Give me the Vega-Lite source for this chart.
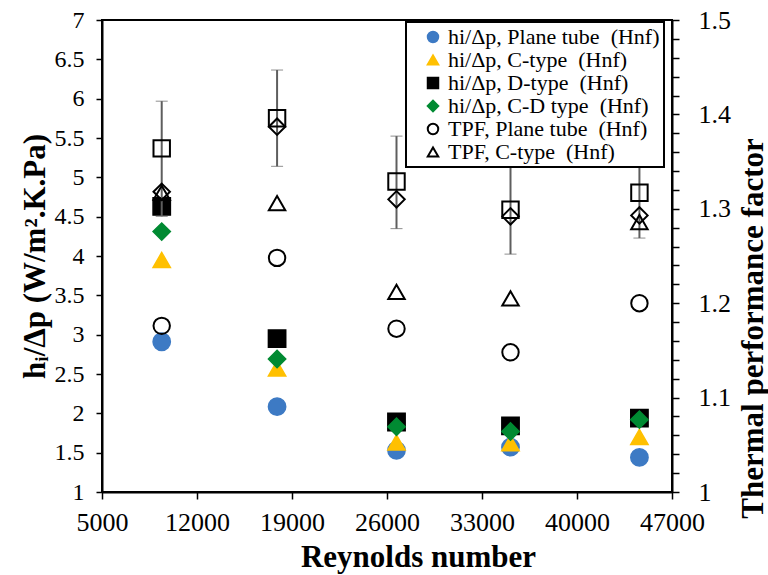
{
  "$schema": "https://vega.github.io/schema/vega-lite/v6.json",
  "width": 570,
  "height": 472,
  "autosize": {"type": "none"},
  "padding": {"left": 102, "top": 20, "right": 96, "bottom": 83},
  "background": "white",
  "config": {
    "font": "Liberation Serif",
    "view": {"stroke": "black", "strokeWidth": 2},
    "axis": {
      "grid": false, "domainColor": "black", "domainWidth": 2,
      "tickColor": "black", "tickWidth": 1.5, "tickSize": 6,
      "labelFont": "Liberation Serif", "labelFontSize": 24, "labelColor": "black",
      "labelOverlap": false, "labelFlush": false,
      "titleFont": "Liberation Serif", "titleFontSize": 31, "titleFontWeight": "bold", "titleColor": "black"
    },
    "legend": {
      "labelFont": "Liberation Serif", "labelFontSize": 22, "labelColor": "black", "labelLimit": 0,
      "symbolSize": 110, "symbolStrokeWidth": 2, "rowPadding": 1, "padding": 4, "symbolOffset": 12, "labelOffset": 4,
      "strokeColor": "black", "strokeWidth": 2, "fillColor": "white"
    }
  },
  "datasets": {
    "hi": [
      {"Re": 9400, "series": "hi/Δp, Plane tube\u00a0 (Hnf)", "val": 2.91},
      {"Re": 17900, "series": "hi/Δp, Plane tube\u00a0 (Hnf)", "val": 2.085},
      {"Re": 26700, "series": "hi/Δp, Plane tube\u00a0 (Hnf)", "val": 1.53},
      {"Re": 35100, "series": "hi/Δp, Plane tube\u00a0 (Hnf)", "val": 1.57},
      {"Re": 44600, "series": "hi/Δp, Plane tube\u00a0 (Hnf)", "val": 1.44},
      {"Re": 9400, "series": "hi/Δp, C-type\u00a0 (Hnf)", "val": 3.95},
      {"Re": 17900, "series": "hi/Δp, C-type\u00a0 (Hnf)", "val": 2.57},
      {"Re": 26700, "series": "hi/Δp, C-type\u00a0 (Hnf)", "val": 1.63},
      {"Re": 35100, "series": "hi/Δp, C-type\u00a0 (Hnf)", "val": 1.62},
      {"Re": 44600, "series": "hi/Δp, C-type\u00a0 (Hnf)", "val": 1.70},
      {"Re": 9400, "series": "hi/Δp, D-type\u00a0 (Hnf)", "val": 4.63},
      {"Re": 17900, "series": "hi/Δp, D-type\u00a0 (Hnf)", "val": 2.95},
      {"Re": 26700, "series": "hi/Δp, D-type\u00a0 (Hnf)", "val": 1.89},
      {"Re": 35100, "series": "hi/Δp, D-type\u00a0 (Hnf)", "val": 1.84},
      {"Re": 44600, "series": "hi/Δp, D-type\u00a0 (Hnf)", "val": 1.94},
      {"Re": 9400, "series": "hi/Δp, C-D type\u00a0 (Hnf)", "val": 4.31},
      {"Re": 17900, "series": "hi/Δp, C-D type\u00a0 (Hnf)", "val": 2.69},
      {"Re": 26700, "series": "hi/Δp, C-D type\u00a0 (Hnf)", "val": 1.83},
      {"Re": 35100, "series": "hi/Δp, C-D type\u00a0 (Hnf)", "val": 1.77},
      {"Re": 44600, "series": "hi/Δp, C-D type\u00a0 (Hnf)", "val": 1.92}
    ],
    "tpf": [
      {"Re": 9400, "series": "TPF, Plane tube\u00a0 (Hnf)", "val": 1.176},
      {"Re": 17900, "series": "TPF, Plane tube\u00a0 (Hnf)", "val": 1.248},
      {"Re": 26700, "series": "TPF, Plane tube\u00a0 (Hnf)", "val": 1.173},
      {"Re": 35100, "series": "TPF, Plane tube\u00a0 (Hnf)", "val": 1.148},
      {"Re": 44600, "series": "TPF, Plane tube\u00a0 (Hnf)", "val": 1.200},
      {"Re": 9400, "series": "TPF, C-type\u00a0 (Hnf)", "val": 1.317},
      {"Re": 17900, "series": "TPF, C-type\u00a0 (Hnf)", "val": 1.306},
      {"Re": 26700, "series": "TPF, C-type\u00a0 (Hnf)", "val": 1.212},
      {"Re": 35100, "series": "TPF, C-type\u00a0 (Hnf)", "val": 1.205},
      {"Re": 44600, "series": "TPF, C-type\u00a0 (Hnf)", "val": 1.286},
      {"Re": 9400, "series": "TPF, D-type\u00a0 (Hnf)", "val": 1.364},
      {"Re": 17900, "series": "TPF, D-type\u00a0 (Hnf)", "val": 1.396},
      {"Re": 26700, "series": "TPF, D-type\u00a0 (Hnf)", "val": 1.329},
      {"Re": 35100, "series": "TPF, D-type\u00a0 (Hnf)", "val": 1.299},
      {"Re": 44600, "series": "TPF, D-type\u00a0 (Hnf)", "val": 1.317},
      {"Re": 9400, "series": "TPF, C-D type\u00a0 (Hnf)", "val": 1.318},
      {"Re": 17900, "series": "TPF, C-D type\u00a0 (Hnf)", "val": 1.387},
      {"Re": 26700, "series": "TPF, C-D type\u00a0 (Hnf)", "val": 1.310},
      {"Re": 35100, "series": "TPF, C-D type\u00a0 (Hnf)", "val": 1.292},
      {"Re": 44600, "series": "TPF, C-D type\u00a0 (Hnf)", "val": 1.293}
    ],
    "err": [
      {"Re": 9400, "lo": 1.292, "hi": 1.414},
      {"Re": 17900, "lo": 1.345, "hi": 1.447},
      {"Re": 26700, "lo": 1.279, "hi": 1.377},
      {"Re": 35100, "lo": 1.252, "hi": 1.347},
      {"Re": 44600, "lo": 1.269, "hi": 1.365}
    ]
  },
  "layer": [
    {
      "data": {"name": "hi"},
      "mark": {"type": "point", "filled": true, "size": 300, "opacity": 1, "strokeWidth": 1.5},
      "encoding": {
        "x": {"field": "Re", "type": "quantitative", "scale": {"domain": [5000, 47000], "nice": false, "zero": false},
          "axis": {"title": "Reynolds number", "values": [5000, 12000, 19000, 26000, 33000, 40000, 47000], "format": "d", "tickSize": 7, "labelFontSize": 26, "labelPadding": 10, "titleX": 316, "titleY": 65, "titleBaseline": "middle"}},
        "y": {"field": "val", "type": "quantitative", "scale": {"domain": [1, 7], "nice": false, "zero": false},
          "axis": {"orient": "left", "title": "hᵢ/Δp (W/m².K.Pa)", "values": [1, 1.5, 2, 2.5, 3, 3.5, 4, 4.5, 5, 5.5, 6, 6.5, 7], "format": "~g", "labelPadding": 12, "titleX": -67, "titleY": 236, "titleBaseline": "middle", "titleAngle": 270}},
        "shape": {"field": "series", "type": "nominal",
          "scale": {"domain": ["hi/Δp, Plane tube\u00a0 (Hnf)", "hi/Δp, C-type\u00a0 (Hnf)", "hi/Δp, D-type\u00a0 (Hnf)", "hi/Δp, C-D type\u00a0 (Hnf)", "TPF, Plane tube\u00a0 (Hnf)", "TPF, C-type\u00a0 (Hnf)", "TPF, D-type\u00a0 (Hnf)", "TPF, C-D type\u00a0 (Hnf)"],
            "range": ["circle", "triangle-up", "square", "diamond", "circle", "triangle-up", "square", "diamond"]},
          "legend": {"title": null, "orient": "none", "legendX": 304, "legendY": 2, "values": ["hi/Δp, Plane tube\u00a0 (Hnf)", "hi/Δp, C-type\u00a0 (Hnf)", "hi/Δp, D-type\u00a0 (Hnf)", "hi/Δp, C-D type\u00a0 (Hnf)", "TPF, Plane tube\u00a0 (Hnf)", "TPF, C-type\u00a0 (Hnf)"]}},
        "fill": {"field": "series", "type": "nominal",
          "scale": {"domain": ["hi/Δp, Plane tube\u00a0 (Hnf)", "hi/Δp, C-type\u00a0 (Hnf)", "hi/Δp, D-type\u00a0 (Hnf)", "hi/Δp, C-D type\u00a0 (Hnf)", "TPF, Plane tube\u00a0 (Hnf)", "TPF, C-type\u00a0 (Hnf)", "TPF, D-type\u00a0 (Hnf)", "TPF, C-D type\u00a0 (Hnf)"],
            "range": ["#3D7AC4", "#FFC000", "#000000", "#008A32", "transparent", "transparent", "transparent", "transparent"]},
          "legend": {"title": null, "orient": "none", "legendX": 304, "legendY": 2, "values": ["hi/Δp, Plane tube\u00a0 (Hnf)", "hi/Δp, C-type\u00a0 (Hnf)", "hi/Δp, D-type\u00a0 (Hnf)", "hi/Δp, C-D type\u00a0 (Hnf)", "TPF, Plane tube\u00a0 (Hnf)", "TPF, C-type\u00a0 (Hnf)"]}},
        "stroke": {"field": "series", "type": "nominal",
          "scale": {"domain": ["hi/Δp, Plane tube\u00a0 (Hnf)", "hi/Δp, C-type\u00a0 (Hnf)", "hi/Δp, D-type\u00a0 (Hnf)", "hi/Δp, C-D type\u00a0 (Hnf)", "TPF, Plane tube\u00a0 (Hnf)", "TPF, C-type\u00a0 (Hnf)", "TPF, D-type\u00a0 (Hnf)", "TPF, C-D type\u00a0 (Hnf)"],
            "range": ["#3D7AC4", "#FFC000", "#000000", "#008A32", "#000000", "#000000", "#000000", "#000000"]},
          "legend": {"title": null, "orient": "none", "legendX": 304, "legendY": 2, "values": ["hi/Δp, Plane tube\u00a0 (Hnf)", "hi/Δp, C-type\u00a0 (Hnf)", "hi/Δp, D-type\u00a0 (Hnf)", "hi/Δp, C-D type\u00a0 (Hnf)", "TPF, Plane tube\u00a0 (Hnf)", "TPF, C-type\u00a0 (Hnf)"]}}
      }
    },
    {
      "layer": [
        {
          "data": {"name": "err"},
          "mark": {"type": "errorbar", "ticks": {"size": 12, "color": "#5E5E5E", "strokeWidth": 2}, "rule": {"color": "#5E5E5E", "strokeWidth": 2}},
          "encoding": {
            "x": {"field": "Re", "type": "quantitative"},
            "y": {"field": "lo", "type": "quantitative", "scale": {"domain": [1, 1.5], "nice": false, "zero": false},
              "axis": {"orient": "right", "title": "Thermal performance factor", "values": [1, 1.02, 1.04, 1.06, 1.08, 1.1, 1.12, 1.14, 1.16, 1.18, 1.2, 1.22, 1.24, 1.26, 1.28, 1.3, 1.32, 1.34, 1.36, 1.38, 1.4, 1.42, 1.44, 1.46, 1.48, 1.5], "labelExpr": "abs(datum.value*10 - round(datum.value*10)) < 0.001 ? format(datum.value, '~g') : ''", "tickSize": 7, "labelFontSize": 26, "labelPadding": 19, "titleX": 81, "titleY": 308, "titleBaseline": "middle", "titleAngle": 270}},
            "y2": {"field": "hi"}
          }
        },
        {
          "data": {"name": "tpf"},
          "mark": {"type": "point", "filled": true, "size": 270, "opacity": 1, "strokeWidth": 2},
          "encoding": {
            "x": {"field": "Re", "type": "quantitative"},
            "y": {"field": "val", "type": "quantitative", "scale": {"domain": [1, 1.5], "nice": false, "zero": false},
              "axis": {"orient": "right", "title": "Thermal performance factor", "values": [1, 1.02, 1.04, 1.06, 1.08, 1.1, 1.12, 1.14, 1.16, 1.18, 1.2, 1.22, 1.24, 1.26, 1.28, 1.3, 1.32, 1.34, 1.36, 1.38, 1.4, 1.42, 1.44, 1.46, 1.48, 1.5], "labelExpr": "abs(datum.value*10 - round(datum.value*10)) < 0.001 ? format(datum.value, '~g') : ''", "tickSize": 7, "labelFontSize": 26, "labelPadding": 19, "titleX": 81, "titleY": 308, "titleBaseline": "middle", "titleAngle": 270}},
            "shape": {"field": "series", "type": "nominal",
              "scale": {"domain": ["hi/Δp, Plane tube\u00a0 (Hnf)", "hi/Δp, C-type\u00a0 (Hnf)", "hi/Δp, D-type\u00a0 (Hnf)", "hi/Δp, C-D type\u00a0 (Hnf)", "TPF, Plane tube\u00a0 (Hnf)", "TPF, C-type\u00a0 (Hnf)", "TPF, D-type\u00a0 (Hnf)", "TPF, C-D type\u00a0 (Hnf)"],
                "range": ["circle", "triangle-up", "square", "diamond", "circle", "triangle-up", "square", "diamond"]},
              "legend": {"title": null, "orient": "none", "legendX": 304, "legendY": 2, "values": ["hi/Δp, Plane tube\u00a0 (Hnf)", "hi/Δp, C-type\u00a0 (Hnf)", "hi/Δp, D-type\u00a0 (Hnf)", "hi/Δp, C-D type\u00a0 (Hnf)", "TPF, Plane tube\u00a0 (Hnf)", "TPF, C-type\u00a0 (Hnf)"]}},
            "fill": {"field": "series", "type": "nominal",
              "scale": {"domain": ["hi/Δp, Plane tube\u00a0 (Hnf)", "hi/Δp, C-type\u00a0 (Hnf)", "hi/Δp, D-type\u00a0 (Hnf)", "hi/Δp, C-D type\u00a0 (Hnf)", "TPF, Plane tube\u00a0 (Hnf)", "TPF, C-type\u00a0 (Hnf)", "TPF, D-type\u00a0 (Hnf)", "TPF, C-D type\u00a0 (Hnf)"],
                "range": ["#3D7AC4", "#FFC000", "#000000", "#008A32", "transparent", "transparent", "transparent", "transparent"]},
              "legend": {"title": null, "orient": "none", "legendX": 304, "legendY": 2, "values": ["hi/Δp, Plane tube\u00a0 (Hnf)", "hi/Δp, C-type\u00a0 (Hnf)", "hi/Δp, D-type\u00a0 (Hnf)", "hi/Δp, C-D type\u00a0 (Hnf)", "TPF, Plane tube\u00a0 (Hnf)", "TPF, C-type\u00a0 (Hnf)"]}},
            "stroke": {"field": "series", "type": "nominal",
              "scale": {"domain": ["hi/Δp, Plane tube\u00a0 (Hnf)", "hi/Δp, C-type\u00a0 (Hnf)", "hi/Δp, D-type\u00a0 (Hnf)", "hi/Δp, C-D type\u00a0 (Hnf)", "TPF, Plane tube\u00a0 (Hnf)", "TPF, C-type\u00a0 (Hnf)", "TPF, D-type\u00a0 (Hnf)", "TPF, C-D type\u00a0 (Hnf)"],
                "range": ["#3D7AC4", "#FFC000", "#000000", "#008A32", "#000000", "#000000", "#000000", "#000000"]},
              "legend": {"title": null, "orient": "none", "legendX": 304, "legendY": 2, "values": ["hi/Δp, Plane tube\u00a0 (Hnf)", "hi/Δp, C-type\u00a0 (Hnf)", "hi/Δp, D-type\u00a0 (Hnf)", "hi/Δp, C-D type\u00a0 (Hnf)", "TPF, Plane tube\u00a0 (Hnf)", "TPF, C-type\u00a0 (Hnf)"]}}
          }
        }
      ]
    }
  ],
  "resolve": {"scale": {"y": "independent"}}
}
